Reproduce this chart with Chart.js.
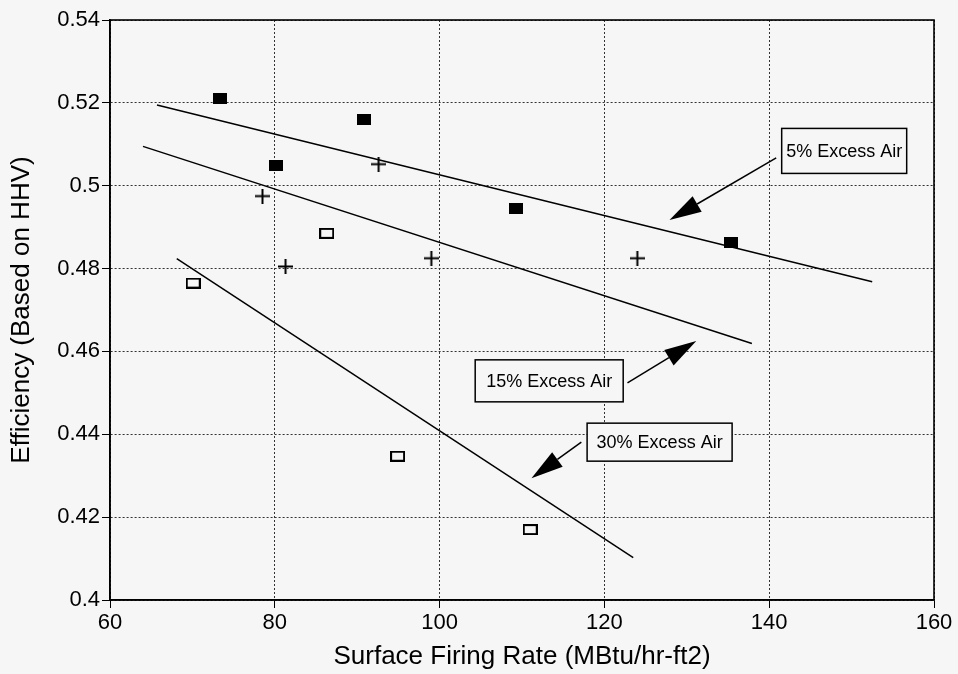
<!DOCTYPE html>
<html><head><meta charset="utf-8">
<script src="https://cdn.jsdelivr.net/npm/chart.js@4.4.0/dist/chart.umd.min.js"></script>
<style>html,body{margin:0;padding:0;background:#f6f6f6;}#wrap{width:958px;height:674px;position:relative;}</style>
</head><body><div id="wrap"><canvas id="c"></canvas></div>
<script>
// ---- data ----
const air5X  = [73.3, 80.1, 90.8, 109.3, 135.4];
const air5Y  = [0.521, 0.505, 0.516, 0.4945, 0.4862];
const air15X = [78.5, 81.3, 92.6, 99.0, 124.0];
const air15Y = [0.4975, 0.4805, 0.5052, 0.4825, 0.4825];
const air30X = [70.1, 86.3, 94.9, 111.0];
const air30Y = [0.4765, 0.4885, 0.4347, 0.417];
const fit5X  = [65.7, 152.5];  const fit5Y  = [0.5195, 0.4768];
const fit15X = [64.0, 137.9];  const fit15Y = [0.5095, 0.4619];
const fit30X = [68.1, 123.5];  const fit30Y = [0.4824, 0.4102];
const xTicks = [60, 80, 100, 120, 140, 160];
const yTicks = [0.4, 0.42, 0.44, 0.46, 0.48, 0.5, 0.52, 0.54];
const xTitle = 'Surface Firing Rate (MBtu/hr-ft2)';
const yTitle = 'Efficiency (Based on HHV)';
const noteText  = ['5% Excess Air', '15% Excess Air', '30% Excess Air'];
const noteX     = [149.1, 113.3, 126.7];
const noteY     = [0.5084, 0.4529, 0.4381];
const arrowFromX = [140.85, 122.8, 117.2];
const arrowFromY = [0.5067, 0.4524, 0.4381];
const arrowToX   = [127.9, 131.15, 111.15];
const arrowToY   = [0.4917, 0.4625, 0.4294];

const toPts = (xs, ys) => xs.map((x, i) => ({x: x, y: ys[i]}));

function mk(w, h, draw) { const c = document.createElement('canvas'); c.width = w; c.height = h; draw(c.getContext('2d')); return c; }
const filledSq = mk(14, 11, g => { g.fillStyle = '#000'; g.fillRect(0, 0, 14, 11); });
const openSq = mk(15, 11, g => { g.strokeStyle = '#000'; g.lineWidth = 2; g.strokeRect(1, 1, 13, 9); });
const plusMk = mk(15, 15, g => { g.fillStyle = '#000'; g.fillRect(0, 6.5, 15, 2); g.fillRect(6.5, 0, 2, 15); });

const FONT = "'Liberation Sans', Arial, Helvetica, sans-serif";

const bgPlugin = {
  id: 'bg',
  beforeDraw(chart) { const g = chart.ctx; g.save(); g.fillStyle = '#f6f6f6'; g.fillRect(0, 0, chart.width, chart.height); g.restore(); }
};
const framePlugin = {
  id: 'frame',
  afterDraw(chart) {
    const g = chart.ctx, a = chart.chartArea, xs = chart.scales.x, ys = chart.scales.y;
    g.save();
    g.strokeStyle = '#000'; g.lineWidth = 1.6; g.setLineDash([]);
    g.strokeRect(a.left, a.top, a.right - a.left, a.bottom - a.top);
    // annotations
    g.font = '18px ' + FONT; g.textAlign = 'center'; g.textBaseline = 'middle';
    const boxW = [125, 148, 145], boxH = [45, 42, 38];
    for (let i = 0; i < noteText.length; i++) {
      // arrow
      const x1 = xs.getPixelForValue(arrowFromX[i]), y1 = ys.getPixelForValue(arrowFromY[i]);
      const x2 = xs.getPixelForValue(arrowToX[i]),   y2 = ys.getPixelForValue(arrowToY[i]);
      const ang = Math.atan2(y2 - y1, x2 - x1), L = 32, W = 9;
      const bx = x2 - L * Math.cos(ang), by = y2 - L * Math.sin(ang);
      g.lineWidth = 1.5; g.strokeStyle = '#000';
      g.beginPath(); g.moveTo(x1, y1); g.lineTo(bx, by); g.stroke();
      g.fillStyle = '#000'; g.beginPath();
      g.moveTo(x2, y2);
      g.lineTo(bx + W * Math.sin(ang), by - W * Math.cos(ang));
      g.lineTo(bx - W * Math.sin(ang), by + W * Math.cos(ang));
      g.closePath(); g.fill();
      // box
      const cx = xs.getPixelForValue(noteX[i]), cy = ys.getPixelForValue(noteY[i]);
      g.fillStyle = '#f6f6f6';
      g.fillRect(cx - boxW[i] / 2, cy - boxH[i] / 2, boxW[i], boxH[i]);
      g.lineWidth = 1.5;
      g.strokeRect(cx - boxW[i] / 2, cy - boxH[i] / 2, boxW[i], boxH[i]);
      g.fillStyle = '#000';
      g.fillText(noteText[i], cx, cy + 1);
    }
    g.restore();
  }
};

new Chart(document.getElementById('c'), {
  type: 'scatter',
  data: {
    datasets: [
      { label: '5% fit', type: 'line', data: toPts(fit5X, fit5Y), borderColor: '#000', borderWidth: 1.5, pointRadius: 0, fill: false, showLine: true },
      { label: '15% fit', type: 'line', data: toPts(fit15X, fit15Y), borderColor: '#000', borderWidth: 1.5, pointRadius: 0, fill: false, showLine: true },
      { label: '30% fit', type: 'line', data: toPts(fit30X, fit30Y), borderColor: '#000', borderWidth: 1.5, pointRadius: 0, fill: false, showLine: true },
      { label: '5% Excess Air', data: toPts(air5X, air5Y), pointStyle: filledSq, pointRadius: 7 },
      { label: '15% Excess Air', data: toPts(air15X, air15Y), pointStyle: plusMk, pointRadius: 7 },
      { label: '30% Excess Air', data: toPts(air30X, air30Y), pointStyle: openSq, pointRadius: 7 }
    ]
  },
  options: {
    responsive: true, maintainAspectRatio: false, animation: false,
    layout: { padding: { top: 20, right: 24, left: 0, bottom: 0 } },
    plugins: { legend: { display: false }, tooltip: { enabled: false } },
    scales: {
      x: {
        type: 'linear', min: 60, max: 160,
        afterBuildTicks: s => { s.ticks = xTicks.map(v => ({ value: v })); },
        afterFit: s => { s.height = 74; },
        ticks: { color: '#000', font: { family: FONT, size: 22 }, padding: 2, maxRotation: 0, autoSkip: false },
        grid: { color: '#333', lineWidth: 1, tickLength: 8, tickColor: '#000', drawTicks: true },
        border: { display: true, color: '#000', width: 1.6, dash: [2, 2] },
        title: { display: true, text: xTitle, color: '#000', font: { family: FONT, size: 26 }, padding: { top: 0, bottom: 2 } }
      },
      y: {
        type: 'linear', min: 0.4, max: 0.54,
        afterBuildTicks: s => { s.ticks = yTicks.map(v => ({ value: v })); },
        afterFit: s => { s.width = 110; },
        ticks: { color: '#000', font: { family: FONT, size: 22 }, padding: 2, autoSkip: false, callback: v => String(+(+v).toFixed(2)) },
        grid: { color: '#333', lineWidth: 1, tickLength: 8, tickColor: '#000', drawTicks: true },
        border: { display: true, color: '#000', width: 1.6, dash: [2, 2] },
        title: { display: true, text: yTitle, color: '#000', font: { family: FONT, size: 26 }, padding: { top: 6, bottom: 0 } }
      }
    }
  },
  plugins: [bgPlugin, framePlugin]
});
</script>
</body></html>
